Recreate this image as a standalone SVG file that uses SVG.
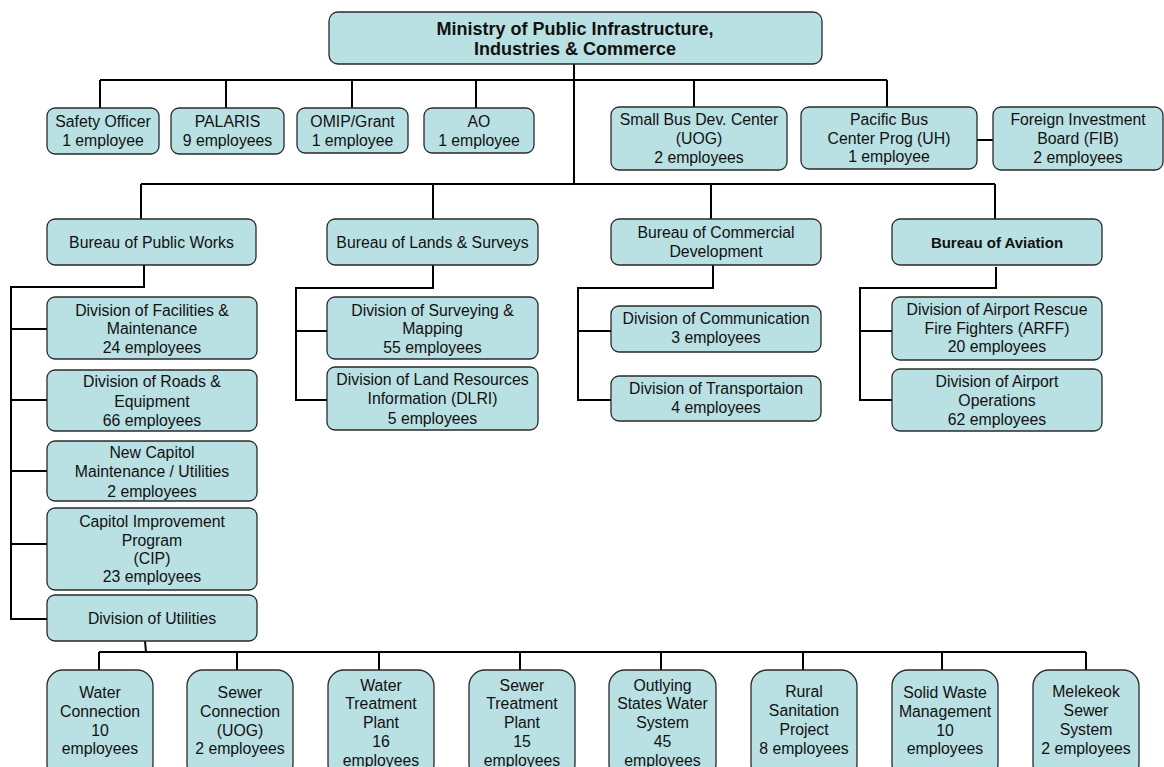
<svg xmlns="http://www.w3.org/2000/svg" width="1164" height="767" viewBox="0 0 1164 767">
<style>
.n rect{fill:#b9e0e3;stroke:#2a2a2a;stroke-width:1.3}
text{font-family:"Liberation Sans",Arial,sans-serif;font-size:15.8px;fill:#111;text-anchor:middle}
.bold{font-weight:bold;font-size:15px}
.title{font-weight:bold;font-size:18px}
.c path{stroke:#000;stroke-width:2;fill:none}
</style>
<rect width="1164" height="767" fill="#fff"/>
<g class="c" id="connectors">
<path d="M574,64V184"/>
<path d="M100,80H887M100,80V108M226,80V108M352,80V108M476,80V108M694,80V107M887,80V107"/>
<path d="M977,140H993"/>
<path d="M141,184H995M141,184V219M433,184V219M711,184V219M995,184V219"/>
<path d="M144,265V287H11V620M11,329H47M11,400H47M11,471H47M11,544H47M11,619H47"/>
<path d="M433,265V288H296V400H327M296,331H327"/>
<path d="M713,265V288H578V400H611M578,331H611"/>
<path d="M996,267V288H860V400H892M860,331H892"/>
<path d="M145,641L146,652M99,652H1086M99,652V670M237,652V670M379,652V670M520,652V670M661,652V670M803,652V670M942,652V670M1086,652V670"/>
</g>
<g class="n" id="ministry"><rect x="329" y="12" width="493" height="52" rx="9"/><text class="title" x="575"><tspan x="575" y="35">Ministry of Public Infrastructure,</tspan><tspan x="575" y="55">Industries &amp; Commerce</tspan></text></g>
<g class="n" id="safety"><rect x="47" y="108" width="112" height="46" rx="8"/><text><tspan x="103" y="127">Safety Officer</tspan><tspan x="103" y="146">1 employee</tspan></text></g>
<g class="n" id="palaris"><rect x="171" y="108" width="113" height="46" rx="8"/><text><tspan x="227.5" y="127">PALARIS</tspan><tspan x="227.5" y="146">9 employees</tspan></text></g>
<g class="n" id="omip"><rect x="297" y="108" width="111" height="45" rx="8"/><text><tspan x="352.5" y="127">OMIP/Grant</tspan><tspan x="352.5" y="146">1 employee</tspan></text></g>
<g class="n" id="ao"><rect x="424" y="108" width="110" height="45" rx="8"/><text><tspan x="479" y="127">AO</tspan><tspan x="479" y="146">1 employee</tspan></text></g>
<g class="n" id="sbdc"><rect x="611" y="107" width="176" height="63" rx="8"/><text><tspan x="699" y="125">Small Bus Dev. Center</tspan><tspan x="699" y="144">(UOG)</tspan><tspan x="699" y="163">2 employees</tspan></text></g>
<g class="n" id="pbcp"><rect x="801" y="107" width="176" height="62" rx="8"/><text><tspan x="889" y="125">Pacific Bus</tspan><tspan x="889" y="144">Center Prog (UH)</tspan><tspan x="889" y="162">1 employee</tspan></text></g>
<g class="n" id="fib"><rect x="993" y="107" width="170" height="63" rx="8"/><text><tspan x="1078" y="125">Foreign Investment</tspan><tspan x="1078" y="144">Board (FIB)</tspan><tspan x="1078" y="163">2 employees</tspan></text></g>
<g class="n" id="bpw"><rect x="47" y="219" width="209" height="46" rx="8"/><text x="151.5" y="248">Bureau of Public Works</text></g>
<g class="n" id="bls"><rect x="327" y="219" width="211" height="46" rx="8"/><text x="432.5" y="248">Bureau of Lands &amp; Surveys</text></g>
<g class="n" id="bcd"><rect x="611" y="219" width="210" height="46" rx="8"/><text><tspan x="716" y="238">Bureau of Commercial</tspan><tspan x="716" y="257">Development</tspan></text></g>
<g class="n" id="ba"><rect x="892" y="219" width="210" height="46" rx="8"/><text class="bold" x="997" y="248">Bureau of Aviation</text></g>
<g class="n" id="dfm"><rect x="47" y="297" width="210" height="62" rx="8"/><text><tspan x="152" y="316">Division of Facilities &amp;</tspan><tspan x="152" y="334">Maintenance</tspan><tspan x="152" y="353">24 employees</tspan></text></g>
<g class="n" id="dre"><rect x="47" y="370" width="210" height="61" rx="8"/><text><tspan x="152" y="387">Division of Roads &amp;</tspan><tspan x="152" y="407">Equipment</tspan><tspan x="152" y="426">66 employees</tspan></text></g>
<g class="n" id="ncm"><rect x="47" y="441" width="210" height="60" rx="8"/><text><tspan x="152" y="458">New Capitol</tspan><tspan x="152" y="477">Maintenance / Utilities</tspan><tspan x="152" y="497">2 employees</tspan></text></g>
<g class="n" id="cip"><rect x="47" y="508" width="210" height="82" rx="8"/><text><tspan x="152" y="527">Capitol Improvement</tspan><tspan x="152" y="546">Program</tspan><tspan x="152" y="564">(CIP)</tspan><tspan x="152" y="582">23 employees</tspan></text></g>
<g class="n" id="du"><rect x="47" y="595" width="210" height="46" rx="8"/><text x="152" y="624">Division of Utilities</text></g>
<g class="n" id="dsm"><rect x="327" y="297" width="211" height="62" rx="8"/><text><tspan x="432.5" y="316">Division of Surveying &amp;</tspan><tspan x="432.5" y="334">Mapping</tspan><tspan x="432.5" y="353">55 employees</tspan></text></g>
<g class="n" id="dlri"><rect x="327" y="367" width="211" height="63" rx="8"/><text><tspan x="432.5" y="385">Division of Land Resources</tspan><tspan x="432.5" y="404">Information (DLRI)</tspan><tspan x="432.5" y="424">5 employees</tspan></text></g>
<g class="n" id="dc"><rect x="611" y="306" width="210" height="46" rx="8"/><text><tspan x="716" y="324">Division of Communication</tspan><tspan x="716" y="343">3 employees</tspan></text></g>
<g class="n" id="dt"><rect x="611" y="376" width="210" height="45" rx="8"/><text><tspan x="716" y="394">Division of Transportaion</tspan><tspan x="716" y="413">4 employees</tspan></text></g>
<g class="n" id="arff"><rect x="892" y="297" width="210" height="63" rx="8"/><text><tspan x="997" y="315">Division of Airport Rescue</tspan><tspan x="997" y="334">Fire Fighters (ARFF)</tspan><tspan x="997" y="352">20 employees</tspan></text></g>
<g class="n" id="dao"><rect x="892" y="369" width="210" height="62" rx="8"/><text><tspan x="997" y="387">Division of Airport</tspan><tspan x="997" y="406">Operations</tspan><tspan x="997" y="425">62 employees</tspan></text></g>
<g class="n" id="wc"><rect x="47" y="670" width="106" height="110" rx="16"/><text><tspan x="100" y="698">Water</tspan><tspan x="100" y="717">Connection</tspan><tspan x="100" y="736">10</tspan><tspan x="100" y="754">employees</tspan></text></g>
<g class="n" id="sc"><rect x="187" y="670" width="106" height="110" rx="16"/><text><tspan x="240" y="698">Sewer</tspan><tspan x="240" y="717">Connection</tspan><tspan x="240" y="736">(UOG)</tspan><tspan x="240" y="754">2 employees</tspan></text></g>
<g class="n" id="wtp"><rect x="328" y="670" width="106" height="110" rx="16"/><text><tspan x="381" y="691">Water</tspan><tspan x="381" y="709">Treatment</tspan><tspan x="381" y="728">Plant</tspan><tspan x="381" y="747">16</tspan><tspan x="381" y="766">employees</tspan></text></g>
<g class="n" id="stp"><rect x="469" y="670" width="106" height="110" rx="16"/><text><tspan x="522" y="691">Sewer</tspan><tspan x="522" y="709">Treatment</tspan><tspan x="522" y="728">Plant</tspan><tspan x="522" y="747">15</tspan><tspan x="522" y="766">employees</tspan></text></g>
<g class="n" id="osws"><rect x="609" y="670" width="107" height="110" rx="16"/><text><tspan x="662.5" y="691">Outlying</tspan><tspan x="662.5" y="709">States Water</tspan><tspan x="662.5" y="728">System</tspan><tspan x="662.5" y="747">45</tspan><tspan x="662.5" y="766">employees</tspan></text></g>
<g class="n" id="rsp"><rect x="751" y="670" width="106" height="110" rx="16"/><text><tspan x="804" y="697">Rural</tspan><tspan x="804" y="716">Sanitation</tspan><tspan x="804" y="735">Project</tspan><tspan x="804" y="754">8 employees</tspan></text></g>
<g class="n" id="swm"><rect x="892" y="670" width="106" height="110" rx="16"/><text><tspan x="945" y="698">Solid Waste</tspan><tspan x="945" y="717">Management</tspan><tspan x="945" y="736">10</tspan><tspan x="945" y="754">employees</tspan></text></g>
<g class="n" id="mss"><rect x="1033" y="670" width="106" height="110" rx="16"/><text><tspan x="1086" y="697">Melekeok</tspan><tspan x="1086" y="716">Sewer</tspan><tspan x="1086" y="735">System</tspan><tspan x="1086" y="754">2 employees</tspan></text></g>
</svg>
